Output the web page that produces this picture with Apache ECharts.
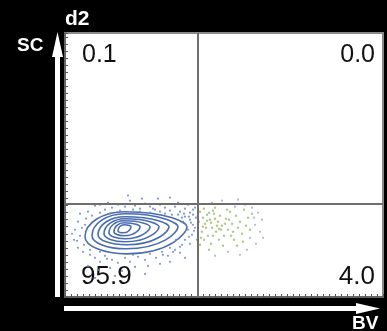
<!DOCTYPE html>
<html>
<head>
<meta charset="utf-8">
<script src="https://cdn.jsdelivr.net/npm/echarts@6/dist/echarts.min.js"></script>
<style>
  html, body { margin: 0; padding: 0; background: #000; }
  #chart { width: 387px; height: 331px; }
</style>
</head>
<body>
<div id="chart"></div>
<script>
// quadrant gate (data units)
const gateX = 133;
const gateY = 93;

// quadrant percentages: UL, UR, LL, LR
const quadLabels = ['0.1', '0.0', '95.9', '4.0'];

// contour rings: [leftX, leftY, tipX, tipY, topX, topY, bottomX, bottomY]
const contourRings = [
  [20, 60, 122, 70, 60, 85, 62, 43],
  [27, 61, 113, 70, 60, 83, 61, 48],
  [33, 62, 104, 70, 60, 80, 61, 52],
  [39, 63, 94, 70, 60, 78, 60, 55],
  [44, 64, 85, 70, 59, 76, 60, 58],
  [49, 65, 75, 70, 59, 74, 59, 61],
  [53, 66, 66, 70, 59, 72, 59, 64]
];

// BV- events outside the contours
const blueDots = [
  [30, 91], [35, 92], [43, 94], [47, 89], [53, 92], [60, 90], [65, 96], [70, 91],
  [75, 88], [80, 93], [85, 90], [90, 87], [95, 92], [100, 89], [105, 86], [110, 90],
  [115, 85], [120, 88], [125, 84], [130, 89], [63, 101], [77, 98], [40, 87], [23, 85],
  [93, 98], [113, 94], [105, 99], [123, 92], [128, 82],
  [120, 80], [125, 77], [128, 72], [123, 67], [127, 62], [120, 57], [130, 69], [117, 52],
  [131, 79], [132, 57], [125, 53], [118, 75],
  [13, 75], [10, 67], [15, 61], [17, 69], [9, 57], [19, 52], [13, 49], [7, 63], [21, 78], [15, 83],
  [25, 42], [30, 39], [35, 35], [40, 41], [47, 37], [53, 34], [60, 39], [65, 35], [73, 40],
  [80, 37], [85, 43], [91, 39], [97, 45], [103, 41], [110, 47], [115, 44],
  [23, 31], [33, 27], [45, 29], [57, 26], [70, 30], [83, 31], [95, 33], [105, 35], [120, 39],
  [80, 23], [50, 21], [30, 19],
  [25, 47], [35, 45], [105, 49], [111, 57], [113, 82], [100, 83], [85, 84],
  [107, 82], [117, 79], [121, 72], [95, 85], [75, 85], [55, 86], [35, 84], [27, 81],
  [119, 83], [124, 80], [126, 74], [129, 66], [124, 60], [115, 50], [108, 45], [98, 42],
  [88, 88], [68, 87], [45, 83], [20, 72], [12, 56], [18, 45], [42, 38], [68, 42], [128, 87]
];

// BV+ events
const greenDots = [
  [135, 85], [138, 79], [140, 73], [142, 82], [145, 77], [147, 69], [149, 83], [151, 65],
  [153, 75], [155, 81], [157, 71], [159, 61], [161, 78], [163, 67], [165, 85], [167, 73],
  [169, 57], [171, 81], [173, 69], [175, 75], [177, 63], [179, 87], [181, 71], [183, 79],
  [137, 65], [139, 57], [143, 61], [146, 53], [150, 89], [154, 57], [158, 51], [162, 87],
  [166, 61], [141, 69], [148, 61], [152, 71], [156, 67], [160, 73], [164, 77], [168, 65],
  [135, 52], [144, 47], [172, 51], [178, 55], [185, 67], [187, 83], [134, 75], [136, 59],
  [139, 88], [144, 84], [146, 74], [150, 78], [154, 68], [138, 70], [142, 76], [148, 86]
];

const greyDots = [
  [180, 92], [187, 89], [193, 84], [197, 77], [190, 72], [195, 65], [185, 59], [191, 53],
  [182, 47], [175, 42], [163, 45], [150, 41], [170, 90], [198, 59], [189, 79], [147, 94],
  [157, 96], [173, 97]
];

const chart = echarts.init(document.getElementById('chart'));

function renderRing(params, api) {
  const L = api.coord([api.value(0), api.value(1)]);
  const R = api.coord([api.value(2), api.value(3)]);
  const T = api.coord([api.value(4), api.value(5)]);
  const B = api.coord([api.value(6), api.value(7)]);
  const k = 0.55;
  const d = [
    'M', L[0], L[1],
    'C', L[0], L[1] - k * (L[1] - T[1]), T[0] - k * (T[0] - L[0]), T[1], T[0], T[1],
    'C', T[0] + 0.7 * (R[0] - T[0]), T[1], R[0], R[1] - 0.25 * (R[1] - T[1]), R[0], R[1],
    'C', R[0], R[1] + 0.25 * (B[1] - R[1]), B[0] + 0.7 * (R[0] - B[0]), B[1], B[0], B[1],
    'C', B[0] - k * (B[0] - L[0]), B[1], L[0], L[1] + k * (B[1] - L[1]), L[0], L[1], 'Z'
  ].join(' ');
  return {
    type: 'path',
    shape: { pathData: d },
    style: { fill: 'none', stroke: '#4a6db0', lineWidth: 1.6 }
  };
}

const option = {
  backgroundColor: '#000',
  animation: false,
  grid: {
    left: 65, top: 33, right: 4, bottom: 34,
    show: true,
    backgroundColor: '#fff',
    borderColor: '#8a8a8a',
    borderWidth: 2
  },
  xAxis: {
    type: 'value', min: 0, max: 318, interval: 6,
    splitLine: { show: false },
    axisLine: { show: true, onZero: false, lineStyle: { color: '#666', width: 2 } },
    axisTick: { show: true, inside: true, length: 3, lineStyle: { color: '#555' } },
    axisLabel: { show: false }
  },
  yAxis: {
    type: 'value', min: 0, max: 263, interval: 7,
    splitLine: { show: false },
    axisLine: { show: true, onZero: false, lineStyle: { color: '#666', width: 2 } },
    axisTick: { show: true, inside: true, length: 3, lineStyle: { color: '#555' } },
    axisLabel: { show: false }
  },
  series: [
    {
      type: 'scatter', data: greyDots, symbolSize: 2.2,
      itemStyle: { color: '#9aa6c6', opacity: 0.8 }
    },
    {
      type: 'scatter', data: greenDots, symbolSize: 2.4,
      itemStyle: { color: '#a9c47a', opacity: 0.9 }
    },
    {
      type: 'scatter', data: blueDots, symbolSize: 2.2,
      itemStyle: { color: '#6a8ac6', opacity: 0.85 },
      markLine: {
        silent: true, symbol: 'none', label: { show: false },
        lineStyle: { color: '#6e6e6e', width: 2, type: 'solid' },
        data: [{ xAxis: gateX }, { yAxis: gateY }]
      }
    },
    {
      type: 'custom', data: contourRings, renderItem: renderRing,
      dimensions: ['lx', 'ly', 'rx', 'ry', 'tx', 'ty', 'bx', 'by'],
      encode: { x: [0, 2, 4, 6], y: [1, 3, 5, 7] }
    }
  ],
  graphic: [
    // quadrant percentages
    { type: 'text', left: 82, top: 43, style: { text: quadLabels[0], font: '25px "Liberation Sans", Arial', fill: '#111' } },
    { type: 'text', right: 12, top: 43, style: { text: quadLabels[1], font: '25px "Liberation Sans", Arial', fill: '#111' } },
    { type: 'text', left: 81, top: 264, style: { text: quadLabels[2], font: '26px "Liberation Sans", Arial', fill: '#111' } },
    { type: 'text', right: 12, top: 264, style: { text: quadLabels[3], font: '26px "Liberation Sans", Arial', fill: '#111' } },
    // axis arrows
    { type: 'polygon', shape: { points: [[55, 297], [60, 297], [60, 57], [63, 57], [57.5, 32], [52, 57], [55, 57]] }, style: { fill: '#fff' } },
    { type: 'polygon', shape: { points: [[64, 306], [64, 311], [356, 311], [356, 314], [380, 308.5], [356, 303], [356, 306]] }, style: { fill: '#fff' } },
    // axis titles
    { type: 'text', left: 17, top: 36, style: { text: 'SC', font: 'bold 19px "Liberation Sans", Arial', fill: '#fff' } },
    { type: 'text', left: 65, top: 9, style: { text: 'd2', font: 'bold 21px "Liberation Sans", Arial', fill: '#fff' } },
    { type: 'text', left: 352, top: 314, style: { text: 'BV', font: 'bold 19px "Liberation Sans", Arial', fill: '#fff' } }
  ]
};

chart.setOption(option);
</script>
</body>
</html>
